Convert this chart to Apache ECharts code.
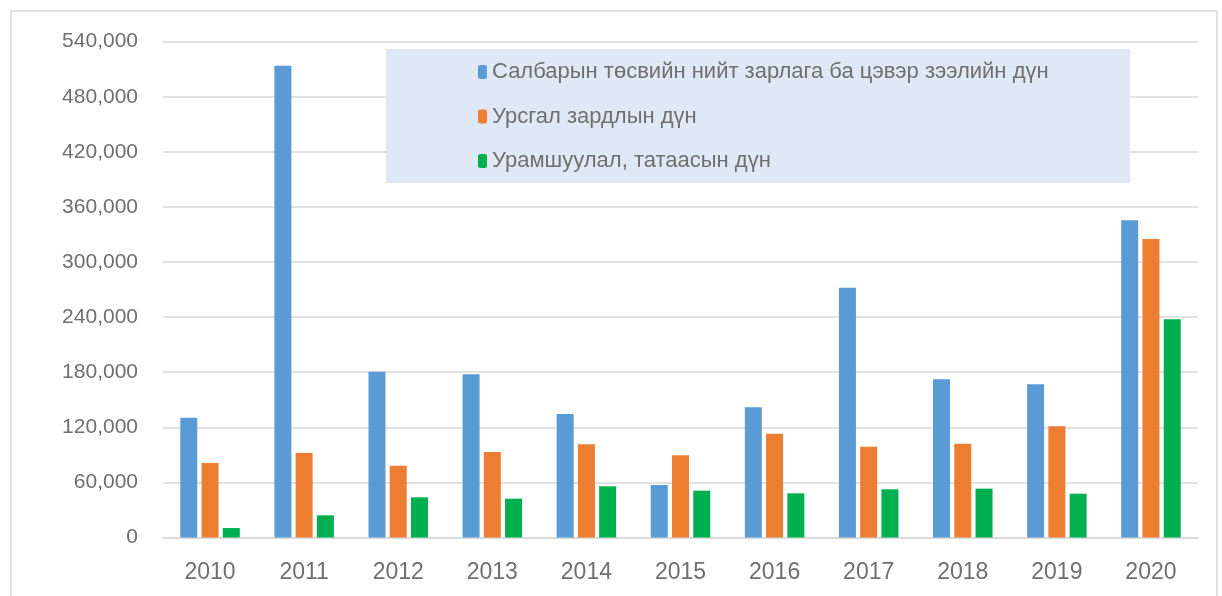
<!DOCTYPE html>
<html lang="mn">
<head>
    <meta charset="UTF-8">
    <title>Chart</title>
    <script src="https://cdn.jsdelivr.net/npm/echarts@6/dist/echarts.min.js"></script>
    <style>
        body { margin: 0; background: #fff; }
        #main { width: 1222px; height: 596px; }
    </style>
</head>
<body>
<div id="main"></div>

<script type="text/javascript">
    // он
    var years = ['2010', '2011', '2012', '2013', '2014', '2015', '2016', '2017', '2018', '2019', '2020'];

    // цувралуудын нэр
    var names = [
        'Салбарын төсвийн нийт зарлага ба цэвэр зээлийн дүн',
        'Урсгал зардлын дүн',
        'Урамшуулал, татаасын дүн'
    ];

    var totalSpend = [130500, 513800, 180500, 177700, 134500, 57200, 141800, 272000, 172300, 166800, 345400];
    var currentSpend = [81100, 92000, 78200, 93100, 101500, 89500, 113100, 98900, 102200, 121100, 325100];
    var subsidies = [10300, 24200, 43800, 42300, 55700, 51000, 48100, 52500, 53200, 47700, 237600];

    var colors = ['#5b9bd5', '#ed7d31', '#00b050'];

    var myChart = echarts.init(document.getElementById('main'));

    var font = "'Liberation Sans', Arial, sans-serif";

    myChart.setOption({
        color: colors,
        animation: false,
        textStyle: { fontFamily: font },
        graphic: [
            {
                // гадна хүрээ
                type: 'rect',
                z: -10,
                shape: { x: 11, y: 11, width: 1206, height: 600 },
                style: { fill: 'none', stroke: '#d9d9d9', lineWidth: 1.5 }
            },
            {
                // тайлбарын дэвсгэр
                type: 'rect',
                z: 1,
                shape: { x: 386, y: 49, width: 744, height: 134 },
                style: { fill: '#dee9f5' }
            }
        ],
        legend: {
            orient: 'vertical',
            left: 478,
            top: 61,
            padding: 0,
            itemWidth: 9,
            itemHeight: 14,
            itemGap: 22.5,
            z: 5,
            textStyle: { fontSize: 22, color: '#6f6f6f', lineHeight: 22, fontFamily: font },
            data: names
        },
        grid: {
            left: 163,
            right: 24,
            top: 41.7,
            bottom: 58.5,
            containLabel: false
        },
        xAxis: {
            type: 'category',
            data: years,
            axisTick: { show: false },
            axisLine: { lineStyle: { color: '#d9d9d9', width: 1.5 } },
            axisLabel: { fontSize: 23, color: '#6f6f6f', margin: 24 }
        },
        yAxis: {
            type: 'value',
            min: 0,
            max: 540000,
            interval: 60000,
            axisLine: { show: false },
            axisTick: { show: false },
            splitLine: { lineStyle: { color: '#d9d9d9', width: 1.5 } },
            axisLabel: {
                fontSize: 21,
                color: '#6f6f6f',
                margin: 25,
                formatter: function (v) { return v.toLocaleString('en-US'); }
            }
        },
        series: [
            { name: names[0], type: 'bar', data: totalSpend, barWidth: 17, barGap: '25%' },
            { name: names[1], type: 'bar', data: currentSpend, barWidth: 17, barGap: '25%' },
            { name: names[2], type: 'bar', data: subsidies, barWidth: 17, barGap: '25%' }
        ]
    });
</script>

</body>
</html>
